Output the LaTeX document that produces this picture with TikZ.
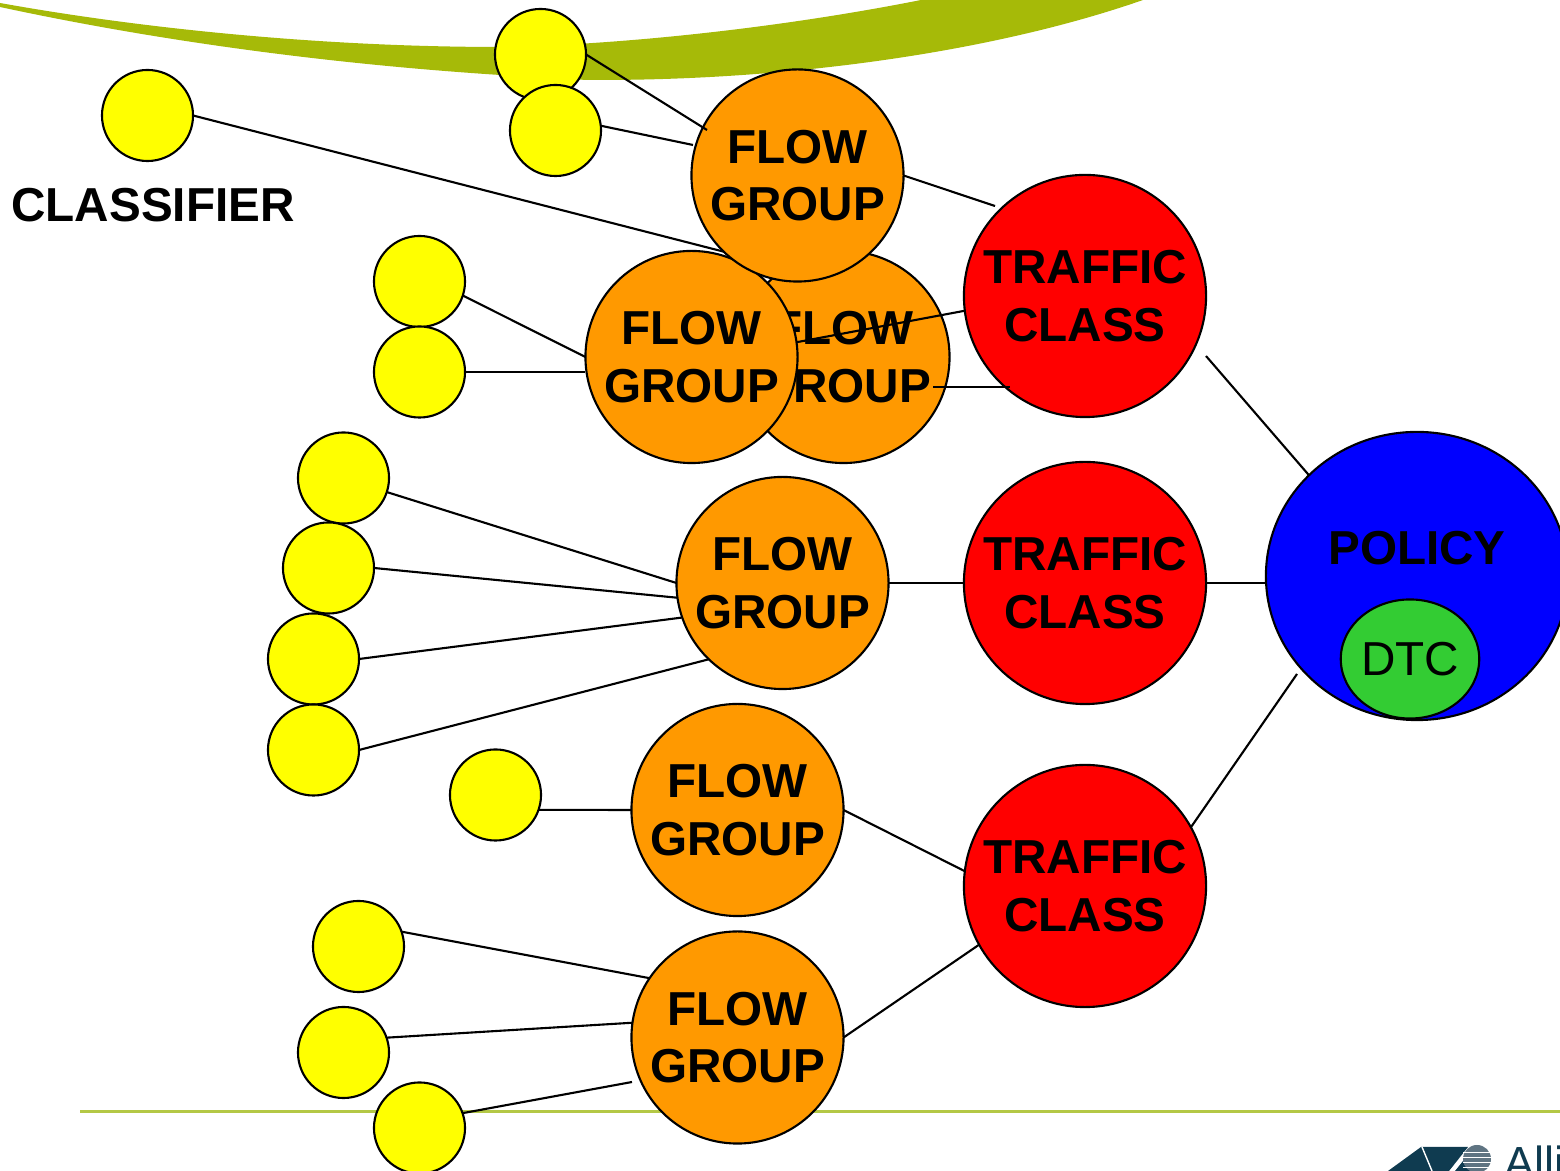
\documentclass[tikz,border=0pt]{standalone}
\usepackage{fontspec}
\setmainfont{Liberation Sans}
\usetikzlibrary{shapes.geometric}

\definecolor{swoosh}{HTML}{A6BA08}
\definecolor{rulegreen}{HTML}{B4C846}
\definecolor{logoblue}{HTML}{0F3B50}
\definecolor{logogrey}{HTML}{5F7482}
\definecolor{classfill}{HTML}{FFFF00}
\definecolor{flowfill}{HTML}{FF9900}
\definecolor{dtcfill}{HTML}{33CC33}

\tikzset{
	wire/.style = {line width = 0.6 pt},
	classifier/.style = {circle, draw, fill = classfill, line width = 0.6 pt, minimum size = 0.91 cm, inner sep = 0, outer sep = 0},
	flowgroup/.style = {circle, draw, fill = flowfill, line width = 0.6 pt, minimum size = 2.12 cm, inner sep = 0, outer sep = 0, align = center, font = \fontsize{13.55}{16.4}\selectfont\bfseries, execute at begin node = {\rule{0 pt}{11.2 pt}}},
	trafficclass/.style = {flowgroup, fill = red, minimum size = 2.42 cm}
}

\begin{document}
\begin{tikzpicture}[x = 0.01 cm, y = -0.01 cm]

	% Page and backdrop

	\useasboundingbox (0, 0) rectangle (1560, 1171);
	\clip (0, 0) rectangle (1560, 1171);

	\fill [swoosh] (0, 3) .. controls (150, 30) and (330, 47) .. (500, 47) .. controls (620, 45) and (780, 28) .. (921, 0) -- (1143, 0) .. controls (1000, 50) and (800, 80) .. (600, 80) .. controls (565, 80) and (530, 77) .. (500, 75) .. controls (300, 62) and (130, 35) .. (0, 7) -- cycle;
	\draw [rulegreen, line width = 1.1 pt] (80, 1111.5) -- (1560, 1111.5);

	% Logo in the corner

	\fill [logoblue] (1388, 1171) -- (1421, 1147) -- (1468, 1147) -- (1449, 1171) -- cycle;
	\draw [white, line width = 0.4 pt] (1422, 1147) -- (1432, 1171);
	\fill [logoblue] (1455, 1171) -- (1467, 1156) -- (1470, 1171) -- cycle;
	\fill [logogrey] (1477, 1159) circle (14);
	\draw [white, line width = 0.2 pt] (1463, 1152) -- (1491, 1152);
	\draw [white, line width = 0.2 pt] (1463, 1157) -- (1491, 1157);
	\draw [white, line width = 0.2 pt] (1463, 1162) -- (1491, 1162);
	\draw [white, line width = 0.2 pt] (1463, 1167) -- (1491, 1167);
	\node (logotext) [anchor = base west, inner sep = 0, text = logoblue, font = \fontsize{12.8}{14}\selectfont] at (1504, 1179) {Alli};

	% Lone classifier, its wire runs behind the flow groups

	\node (classA) [classifier] at (147.5, 115.5) {};
	\node (labelA) [inner sep = 0, font = \fontsize{13.55}{16}\selectfont\bfseries] at (153, 205) {CLASSIFIER};
	\coordinate (hiddenA) at (760, 261);
	\draw [wire] (classA.east) -- (hiddenA);

	% Other classifiers

	\node (classB) [classifier] at (540.5, 54.5) {};
	\node (classC) [classifier] at (555.5, 130.5) {};
	\node (classD) [classifier] at (419.5, 281.5) {};
	\node (classE) [classifier] at (419.5, 372) {};
	\node (classF) [classifier] at (343.5, 478) {};
	\node (classG) [classifier] at (328.5, 568) {};
	\node (classH) [classifier] at (313.5, 659) {};
	\node (classI) [classifier] at (313.5, 750) {};
	\node (classJ) [classifier] at (495.5, 795) {};
	\node (classK) [classifier] at (358.5, 946.5) {};
	\node (classL) [classifier] at (343.5, 1052.5) {};
	\node (classM) [classifier] at (419.5, 1128) {};

	% Flow groups, the order sets which one lies on top

	\node (flowC) [flowgroup] at (843.5, 357) {FLOW\\GROUP};
	\node (flowB) [flowgroup] at (691.5, 357) {FLOW\\GROUP};
	\node (flowA) [flowgroup] at (797.5, 175.5) {FLOW\\GROUP};
	\node (flowD) [flowgroup] at (782.5, 583) {FLOW\\GROUP};
	\node (flowE) [flowgroup] at (737.5, 810) {FLOW\\GROUP};
	\node (flowF) [flowgroup] at (737.5, 1037.5) {FLOW\\GROUP};

	% Traffic classes

	\node (classTop) [trafficclass] at (1085, 296) {TRAFFIC\\CLASS};
	\node (classMid) [trafficclass] at (1085, 583) {TRAFFIC\\CLASS};
	\node (classLow) [trafficclass] at (1085, 886) {TRAFFIC\\CLASS};

	% Policy with its DTC

	\node (policy) [ellipse, draw, fill = blue, line width = 0.6 pt, minimum width = 3.02 cm, minimum height = 2.88 cm, inner sep = 0, outer sep = 0] at (1417, 576) {};
	\node (policytext) [inner sep = 0, font = \fontsize{13.55}{16}\selectfont\bfseries] at (1417, 548) {POLICY};
	\node (dtc) [ellipse, draw, fill = dtcfill, line width = 0.6 pt, minimum width = 1.35 cm, minimum height = 1.19 cm, inner sep = 0, outer sep = 0, font = \fontsize{13.55}{16}\selectfont] at (1410, 659) {DTC};

	% Wires, classifiers to flow groups

	\coordinate (stubB) at (707, 130);
	\coordinate (stubC) at (693, 145);
	\coordinate (stubM) at (632, 1082);
	\draw [wire] (classB.east) -- (stubB);
	\draw [wire] (classC.6) -- (stubC);
	\draw [wire] (classD.-18) -- (flowB.west);
	\draw [wire] (classE.east) -- (classE.east -| flowB.west);
	\draw [wire] (classF.-18) -- (flowD.west);
	\draw [wire] (classG.east) -- (flowD.188);
	\draw [wire] (classH.east) -- (flowD.199);
	\draw [wire] (classI.east) -- (flowD.226);
	\draw [wire] (classJ.-19) -- (flowE.west);
	\draw [wire] (classK.19) -- (flowF.146);
	\draw [wire] (classL.19) -- (flowF.172);
	\draw [wire] (classM.19) -- (stubM);

	% Wires, flow groups to traffic classes

	\coordinate (stubTop) at (995, 206);
	\coordinate (insideC) at (933, 387);
	\coordinate (insideTop) at (1010, 387);
	\draw [wire] (flowA.east) -- (stubTop);
	\draw [wire] (flowB.8) -- (classTop.187);
	\draw [wire] (insideC) -- (insideTop);
	\draw [wire] (flowD.east) -- (classMid.west);
	\draw [wire] (flowE.east) -- (classLow.173);
	\draw [wire] (flowF.east) -- (classLow.209);

	% Wires, traffic classes to policy

	\coordinate (besideTop) at (1206, 356);
	\coordinate (besideLow) at (1297, 674);
	\draw [wire] (besideTop) -- (policy.137);
	\draw [wire] (classMid.east) -- (classMid.east -| policy.west);
	\draw [wire] (classLow.29.5) -- (besideLow);

\end{tikzpicture}
\end{document}
